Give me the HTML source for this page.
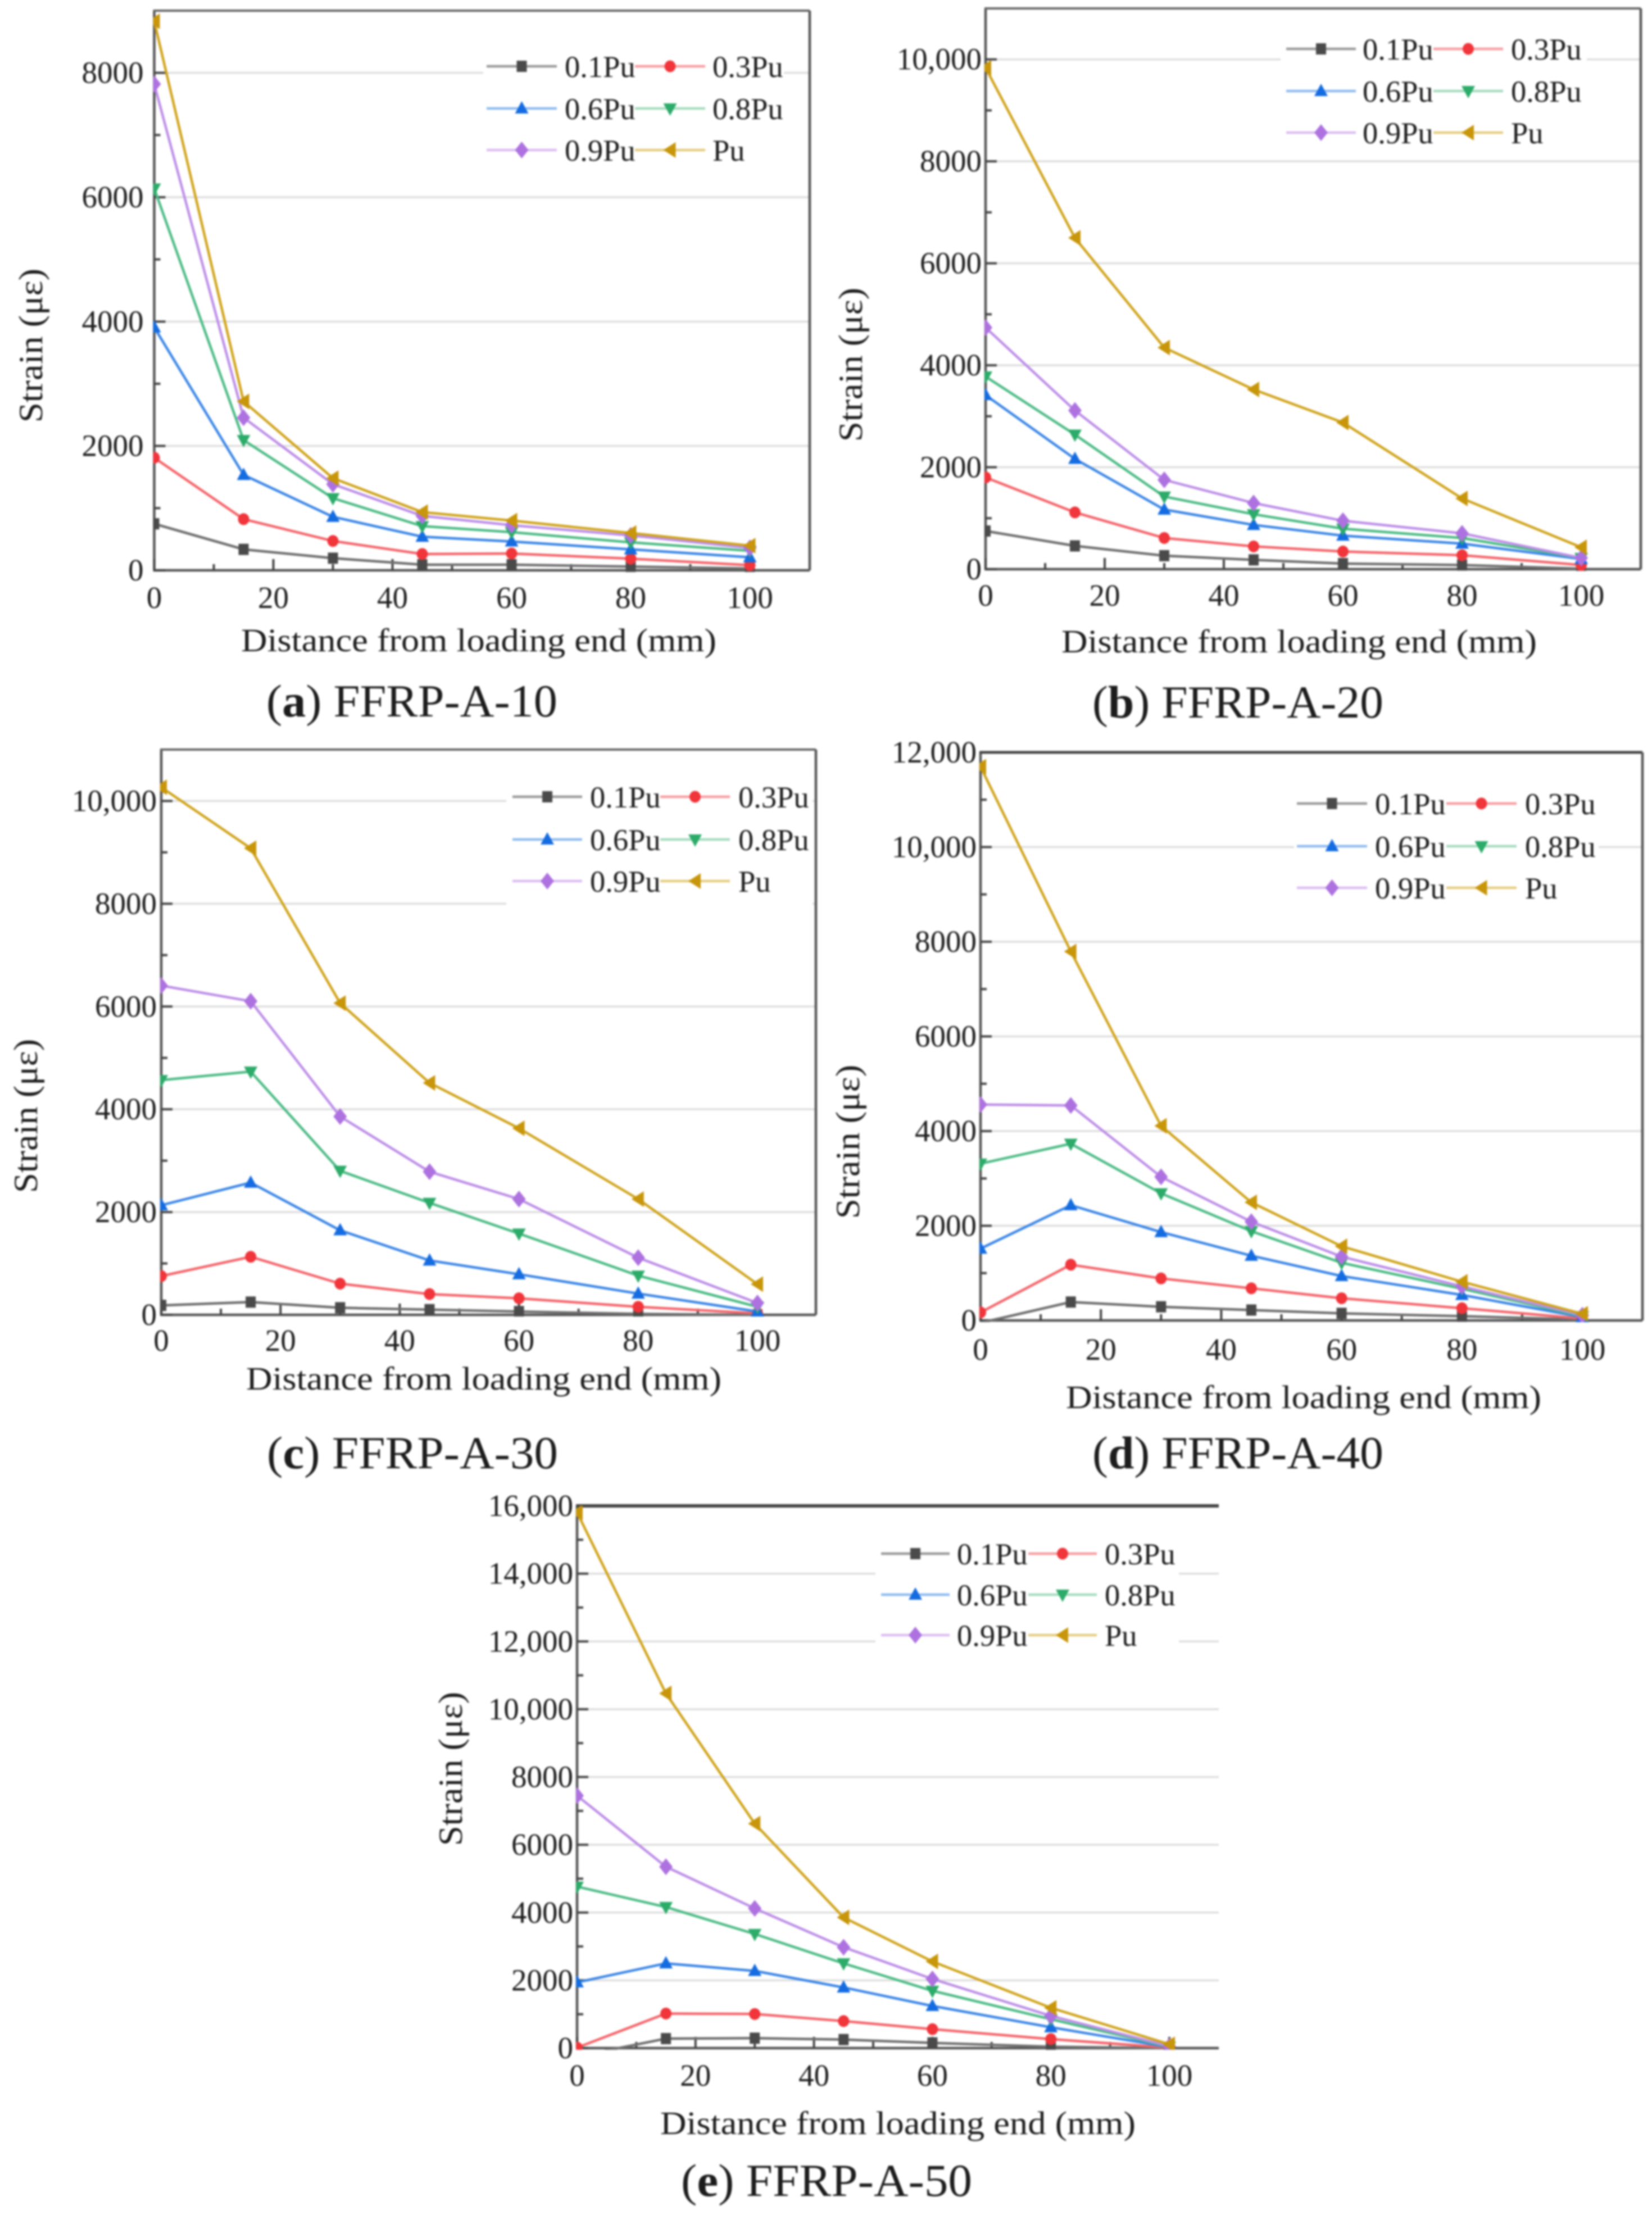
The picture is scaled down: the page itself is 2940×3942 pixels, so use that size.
<!DOCTYPE html>
<html lang="en">
<head>
<meta charset="utf-8">
<title>Strain distribution along FFRP plates</title>
<style>
html,body{margin:0;padding:0;background:#fff;}
#figure{display:block;width:2940px;height:3942px;filter:blur(1.5px);}
text{font-family:"Liberation Serif","DejaVu Serif",serif;fill:#1c1c1c;}
</style>
</head>
<body>
<svg id="figure" xmlns="http://www.w3.org/2000/svg" width="2940" height="3942" viewBox="0 0 2940 3942"></svg>
<script>
// ---------- shared categories ----------
const distances = [0, 15, 30, 45, 60, 80, 100];
const seriesLabels = ['0.1Pu', '0.3Pu', '0.6Pu', '0.8Pu', '0.9Pu', 'Pu'];
const xTicks = [0, 20, 40, 60, 80, 100];

// ---------- panel a: FFRP-A-10 ----------
const yTicksA = [0, 2000, 4000, 6000, 8000];
const a01 = [748, 337, 195, 90, 90, 60, 30];
const a03 = [1811, 823, 472, 262, 270, 187, 82];
const a06 = [3907, 1534, 860, 540, 464, 337, 210];
const a08 = [6140, 2095, 1160, 710, 614, 450, 314];
const a09 = [7820, 2455, 1385, 875, 726, 560, 360];
const aPu = [8830, 2717, 1482, 936, 800, 600, 397];

// ---------- panel b: FFRP-A-20 ----------
const yTicksB = [0, 2000, 4000, 6000, 8000, 10000];
const b01 = [749, 457, 265, 183, 110, 82, 10];
const b03 = [1800, 1114, 612, 447, 347, 274, 82];
const b06 = [3415, 2164, 1169, 868, 658, 502, 200];
const b08 = [3780, 2640, 1425, 1078, 795, 612, 220];
const b09 = [4740, 3114, 1753, 1297, 950, 703, 220];
const bPu = [9835, 6500, 4347, 3525, 2877, 1388, 430];

// ---------- panel c: FFRP-A-30 ----------
const yTicksC = [0, 2000, 4000, 6000, 8000, 10000];
const c01 = [184, 248, 138, 101, 64, 18, 0];
const c03 = [754, 1130, 607, 404, 322, 156, 28];
const c06 = [2132, 2573, 1645, 1057, 790, 413, 64];
const c08 = [4568, 4733, 2803, 2178, 1581, 763, 156];
const c09 = [6406, 6103, 3860, 2785, 2252, 1112, 230];
const cPu = [10266, 9080, 6066, 4513, 3630, 2252, 597];

// ---------- panel d: FFRP-A-40 ----------
const yTicksD = [0, 2000, 4000, 6000, 8000, 10000, 12000];
const d01 = [-50, 389, 289, 220, 150, 90, 20];
const d03 = [170, 1178, 888, 679, 469, 259, 40];
const d06 = [1517, 2435, 1866, 1367, 938, 539, 70];
const d08 = [3313, 3733, 2685, 1886, 1218, 669, 90];
const d09 = [4561, 4541, 3034, 2086, 1347, 719, 110];
const dPu = [11697, 7794, 4112, 2495, 1567, 818, 140];

// ---------- panel e: FFRP-A-50 ----------
const yTicksE = [0, 2000, 4000, 6000, 8000, 10000, 12000, 14000, 16000];
const e01 = [-245, 280, 293, 252, 154, 42, 0];
const e03 = [14, 1020, 1006, 797, 559, 266, 14];
const e06 = [1942, 2501, 2278, 1789, 1244, 615, 28];
const e08 = [4765, 4164, 3368, 2501, 1691, 852, 42];
const e09 = [7448, 5352, 4122, 2977, 2040, 950, 56];
const ePu = [15805, 10467, 6624, 3857, 2557, 1188, 112];

// ---------- series appearance ----------
const lineColors = ['#6f6f6f', '#f4646a', '#3b86e6', '#4cbb85', '#bd8ee8', '#d0a41c'];
const legendLineColors = ['#9a9a9a', '#f99c9f', '#8fbcf2', '#a5dcbf', '#dcbdf3', '#e6cd80'];
const markerColors = ['#4a4a4a', '#f0353b', '#156ce0', '#2cab69', '#ae72e0', '#c8960a'];
const markerShapes = ['square', 'circle', 'up', 'down', 'diamond', 'left'];

// ---------- panel layouts (pixels belong here, not in the data) ----------
const panels = [
  {id:'a', letter:'a', name:'FFRP-A-10', series:[a01,a03,a06,a08,a09,aPu], ticks:yTicksA, yMax:9000,
   x0:274.5, x100:1334.5, right:1441, top:19, bottom:1015, labelGap:19,
   tickBase:1082, xTitleX:852, xTitleY:1159, yTitleX:75, yTitleY:615, capX:733, capY:1275,
   legRows:[118,193,267], legLine1:866, legText1:1005, legLine2:1130, legText2:1268, legLen:125,
   box:[860,85,535,215], topW:4, topC:'#666', rightOn:true},
  {id:'b', letter:'b', name:'FFRP-A-20', series:[b01,b03,b06,b08,b09,bPu], ticks:yTicksB, yMax:11000,
   x0:1754, x100:2814, right:2920, top:15, bottom:1013, labelGap:7,
   tickBase:1078, xTitleX:2312, xTitleY:1161, yTitleX:1534, yTitleY:649, capX:2203, capY:1277,
   legRows:[87,162,236], legLine1:2289, legText1:2425, legLine2:2551, legText2:2689, legLen:124,
   box:[2279,55,545,220], topW:4, topC:'#666', rightOn:true},
  {id:'c', letter:'c', name:'FFRP-A-30', series:[c01,c03,c06,c08,c09,cPu], ticks:yTicksC, yMax:11000,
   x0:287, x100:1348, right:1452, top:1334, bottom:2340, labelGap:8,
   tickBase:2404, xTitleX:861, xTitleY:2473, yTitleX:66, yTitleY:1986, capX:734, capY:2613,
   legRows:[1418,1494,1568], legLine1:912, legText1:1050, legLine2:1175, legText2:1314, legLen:124,
   box:[901,1385,545,230], topW:4, topC:'#666', rightOn:true},
  {id:'d', letter:'d', name:'FFRP-A-40', series:[d01,d03,d06,d08,d09,dPu], ticks:yTicksD, yMax:12000,
   x0:1745, x100:2816, right:2923, top:1339, bottom:2350, labelGap:7,
   tickBase:2420, xTitleX:2320, xTitleY:2506, yTitleX:1529, yTitleY:2032, capX:2203, capY:2613,
   legRows:[1430,1506,1580], legLine1:2308, legText1:2447, legLine2:2574, legText2:2714, legLen:125,
   box:[2303,1395,542,215], topW:5, topC:'#444', rightOn:true},
  {id:'e', letter:'e', name:'FFRP-A-50', series:[e01,e03,e06,e08,e09,ePu], ticks:yTicksE, yMax:16000,
   x0:1027, x100:2081, right:2169, top:2680, bottom:3645, labelGap:7,
   tickBase:3712, xTitleX:1598, xTitleY:3798, yTitleX:822, yTitleY:3148, capX:1471, capY:3908,
   legRows:[2765,2838,2910], legLine1:1568, legText1:1703, legLine2:1830, legText2:1966, legLen:122,
   box:[1558,2725,540,215], topW:6, topC:'#444', rightOn:false}
];

const SVG_NS = 'http://www.w3.org/2000/svg';
const figure = document.getElementById('figure');

function make(tag, parent, attrs, content) {
  const node = document.createElementNS(SVG_NS, tag);
  Object.keys(attrs).forEach(function (k) { node.setAttribute(k, attrs[k]); });
  if (content !== undefined) node.textContent = content;
  parent.appendChild(node);
  return node;
}

function formatTick(v) {
  return v >= 10000 ? String(v).replace(/(\d{3})$/, ',$1') : String(v);
}

function drawMarker(parent, shape, cx, cy, color) {
  let el;
  if (shape === 'square') {
    el = make('rect', parent, {x: cx - 9, y: cy - 10, width: 18, height: 20, fill: color});
  } else if (shape === 'circle') {
    el = make('ellipse', parent, {cx: cx, cy: cy, rx: 10, ry: 10.5, fill: color});
  } else {
    let pts;
    if (shape === 'up') pts = [[cx, cy - 13], [cx + 12, cy + 9], [cx - 12, cy + 9]];
    if (shape === 'down') pts = [[cx, cy + 13], [cx + 12, cy - 9], [cx - 12, cy - 9]];
    if (shape === 'diamond') pts = [[cx, cy - 15], [cx + 12, cy], [cx, cy + 15], [cx - 12, cy]];
    if (shape === 'left') pts = [[cx - 12, cy], [cx + 10, cy - 14], [cx + 10, cy + 14]];
    el = make('polygon', parent, {points: pts.map(function (p) { return p.join(','); }).join(' '), fill: color});
  }
  
  
  return el;
}

panels.forEach(function (p) {
  const sx = function (v) { return p.x0 + v * (p.x100 - p.x0) / 100; };
  const sy = function (v) { return p.bottom - v * (p.bottom - p.top) / p.yMax; };

  const g = make('g', figure, {});
  
  

  const defs = make('defs', g, {});
  const clip = make('clipPath', defs, {id: 'clip-' + p.id});
  make('rect', clip, {x: p.x0 - 2, y: p.top, width: p.right - p.x0 + 2, height: p.bottom - p.top + 3});

  // gridlines
  const grid = make('g', g, {});
  
  
  p.ticks.forEach(function (t) {
    if (t === 0) return;
    const ln = make('line', grid, {x1: p.x0, x2: p.right, y1: sy(t), y2: sy(t), stroke: '#dedede', 'stroke-width': 3.5});
    
    
  });

  // legend background
  const lbg = make('rect', g, {x: p.box[0], y: p.box[1], width: p.box[2], height: p.box[3], fill: '#fff'});
  
  

  // spines
  const left = make('line', g, {x1: p.x0, x2: p.x0, y1: p.top, y2: p.bottom, stroke: '#555', 'stroke-width': 4.5});
  
  
  const bottom = make('line', g, {x1: p.x0 - 2, x2: p.right, y1: p.bottom, y2: p.bottom, stroke: '#555', 'stroke-width': 4.5});
  
  
  const topLine = make('line', g, {x1: p.x0 - 2, x2: p.right, y1: p.top, y2: p.top, stroke: p.topC, 'stroke-width': p.topW});
  
  
  if (p.rightOn) {
    const rightLine = make('line', g, {x1: p.right, x2: p.right, y1: p.top, y2: p.bottom, stroke: '#555', 'stroke-width': 4.5});
    
    
  }

  // x ticks (major + minor pointing inward)
  xTicks.forEach(function (t) {
    const tk = make('line', g, {x1: sx(t), x2: sx(t), y1: p.bottom, y2: p.bottom - 20, stroke: '#444', 'stroke-width': 4});
    
    
    const lb = make('text', g, {x: sx(t), y: p.tickBase, 'text-anchor': 'middle', 'font-size': 55}, String(t));
    
    
    const mv = t + 10;
    if (sx(mv) < p.right - 8 && mv <= 100) {
      const mk = make('line', g, {x1: sx(mv), x2: sx(mv), y1: p.bottom, y2: p.bottom - 11, stroke: '#444', 'stroke-width': 4});
      
      
    }
  });

  // y ticks
  const yStep = p.ticks[1] - p.ticks[0];
  p.ticks.forEach(function (t) {
    const tk = make('line', g, {x1: p.x0, x2: p.x0 + 20, y1: sy(t), y2: sy(t), stroke: '#444', 'stroke-width': 4});
    
    
    const lb = make('text', g, {x: p.x0 - p.labelGap, y: sy(t) + 18, 'text-anchor': 'end', 'font-size': 55}, formatTick(t));
    
    
    if (sy(t + yStep / 2) > p.top) {
      const mk = make('line', g, {x1: p.x0, x2: p.x0 + 11, y1: sy(t + yStep / 2), y2: sy(t + yStep / 2), stroke: '#444', 'stroke-width': 4});
      
      
    }
  });

  // series
  const plot = make('g', g, {'clip-path': 'url(#clip-' + p.id + ')'});
  
  
  p.series.forEach(function (vals, si) {
    const sg = make('g', plot, {});
    
    
    const pts = vals.map(function (v, i) { return sx(distances[i]).toFixed(1) + ',' + sy(v).toFixed(1); }).join(' ');
    const poly = make('polyline', sg, {points: pts, fill: 'none', stroke: lineColors[si], 'stroke-width': 4.5, 'stroke-linejoin': 'round'});
    
    
    vals.forEach(function (v, i) {
      if (v < 0) return;
      drawMarker(sg, markerShapes[si], sx(distances[i]), sy(v), markerColors[si]);
    });
  });

  // legend
  const lg = make('g', g, {});
  
  
  seriesLabels.forEach(function (label, si) {
    const row = Math.floor(si / 2);
    const col = si % 2;
    const y = p.legRows[row];
    const lx = col === 0 ? p.legLine1 : p.legLine2;
    const tx = col === 0 ? p.legText1 : p.legText2;
    const entry = make('g', lg, {});
    
    
    make('line', entry, {x1: lx, x2: lx + p.legLen, y1: y, y2: y, stroke: legendLineColors[si], 'stroke-width': 4.5});
    drawMarker(entry, markerShapes[si], lx + p.legLen / 2, y, markerColors[si]);
    make('text', entry, {x: tx, y: y + 19, 'font-size': 54.5}, label);
  });

  // axis titles
  const xt = make('text', g, {x: p.xTitleX, y: p.xTitleY, 'text-anchor': 'middle', 'font-size': 58, textLength: 846, lengthAdjust: 'spacingAndGlyphs'}, 'Distance from loading end (mm)');
  
  
  const yt = make('text', g, {x: 0, y: 0, 'text-anchor': 'middle', 'font-size': 60, textLength: 274, lengthAdjust: 'spacingAndGlyphs',
    transform: 'translate(' + p.yTitleX + ',' + p.yTitleY + ') rotate(-90)'}, 'Strain (με)');
  
  

  // caption
  const cap = make('text', g, {x: p.capX, y: p.capY, 'text-anchor': 'middle', 'font-size': 82, textLength: 518, lengthAdjust: 'spacingAndGlyphs'});
  
  
  make('tspan', cap, {}, '(');
  make('tspan', cap, {'font-weight': 'bold'}, p.letter);
  make('tspan', cap, {}, ') ' + p.name);
});
</script>
</body>
</html>
